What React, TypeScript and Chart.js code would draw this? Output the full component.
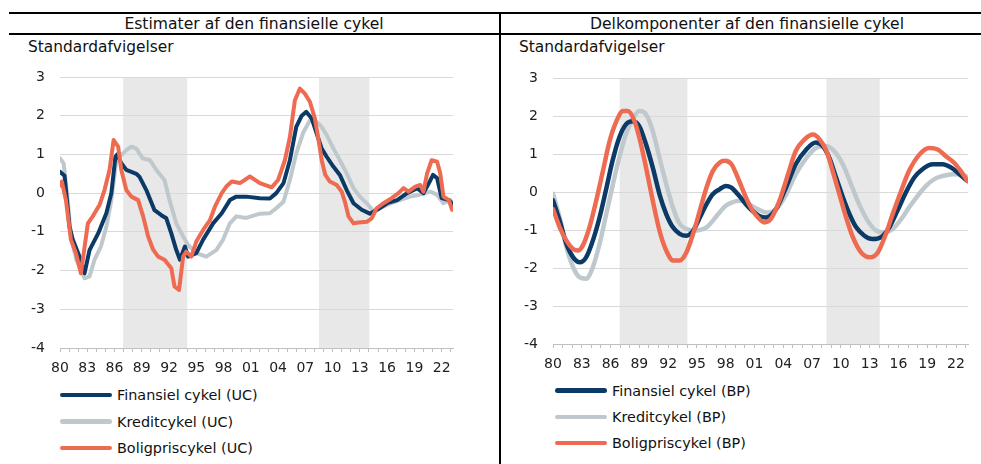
import React, { useEffect, useRef } from 'react';
import Chart from 'chart.js/auto';

type Pt = [number, number];

const FONT = '"DejaVu Sans", Verdana, sans-serif';
const NAVY = '#0b3a66';
const GREY = '#bec8cd';
const RED = '#ee6b52';
const BAND = '#e8e8e8';

// x axis: quarterly data from 1980 to 2023Q1
const X_MIN = 1980;
const X_MAX = 2023.25;
const yearTicks = [
  1980, 1981, 1982, 1983, 1984, 1985, 1986, 1987, 1988, 1989, 1990, 1991, 1992, 1993, 1994,
  1995, 1996, 1997, 1998, 1999, 2000, 2001, 2002, 2003, 2004, 2005, 2006, 2007, 2008, 2009,
  2010, 2011, 2012, 2013, 2014, 2015, 2016, 2017, 2018, 2019, 2020, 2021, 2022, 2023,
];
const labelYears = [1980, 1983, 1986, 1989, 1992, 1995, 1998, 2001, 2004, 2007, 2010, 2013, 2016, 2019, 2022];
const bands: Pt[] = [
  [1986.95, 1994.0],
  [2008.5, 2014.05],
];

// Left panel: Estimater af den finansielle cykel (UC)
const finansielUC: Pt[] = [
  [1980.0, 0.55], [1980.5, 0.45], [1981.05, -0.87], [1981.4, -1.2], [1982.15, -1.64], [1982.7, -2.07],
  [1983.25, -1.47], [1984.2, -1.04], [1985.1, -0.52], [1985.65, 0.0], [1986.1, 0.94], [1986.3, 1.0],
  [1986.75, 0.77], [1987.3, 0.6], [1988.4, 0.5], [1988.75, 0.42], [1989.5, 0.08], [1990.4, -0.44],
  [1991.15, -0.57], [1991.7, -0.65], [1992.25, -1.04], [1992.8, -1.47], [1993.2, -1.72], [1993.75, -1.38],
  [1994.1, -1.64], [1995.0, -1.55], [1995.75, -1.2], [1996.85, -0.78], [1997.8, -0.52], [1998.7, -0.18],
  [1999.4, -0.09], [2000.5, -0.09], [2002.0, -0.13], [2003.1, -0.14], [2003.8, 0.0], [2004.6, 0.26],
  [2005.3, 0.85], [2006.0, 1.71], [2006.6, 2.0], [2007.1, 2.1], [2007.7, 1.93], [2008.25, 1.54],
  [2008.8, 1.15], [2009.35, 0.94], [2010.1, 0.68], [2010.8, 0.47], [2011.55, 0.08], [2012.3, -0.26],
  [2013.2, -0.43], [2014.1, -0.53], [2014.9, -0.43], [2016.0, -0.26], [2017.1, -0.18], [2018.2, 0.0],
  [2019.3, 0.13], [2020.0, 0.0], [2020.6, 0.26], [2021.05, 0.47], [2021.5, 0.39], [2022.0, -0.13],
  [2022.8, -0.18], [2023.25, -0.3],
];
const kreditUC: Pt[] = [
  [1980.0, 0.9], [1980.4, 0.77], [1980.85, -0.18], [1981.2, -1.12], [1981.8, -1.72], [1982.7, -2.2],
  [1983.25, -2.15], [1983.8, -1.72], [1984.5, -1.38], [1985.1, -0.87], [1985.65, -0.18], [1986.2, 0.85],
  [1986.75, 0.98], [1987.3, 1.11], [1987.85, 1.2], [1988.4, 1.15], [1989.1, 0.9], [1989.9, 0.85],
  [1990.6, 0.6], [1991.5, 0.34], [1992.05, -0.18], [1992.8, -0.78], [1993.55, -1.12], [1994.1, -1.34],
  [1995.0, -1.55], [1996.1, -1.64], [1997.2, -1.47], [1997.95, -1.2], [1998.7, -0.78], [1999.4, -0.6],
  [2000.5, -0.64], [2002.0, -0.53], [2003.1, -0.52], [2003.8, -0.39], [2004.6, -0.22], [2005.3, 0.34],
  [2006.0, 1.03], [2006.8, 1.58], [2007.5, 1.88], [2008.25, 1.84], [2008.8, 1.71], [2009.35, 1.5],
  [2010.1, 1.15], [2010.8, 0.85], [2011.55, 0.51], [2012.3, 0.13], [2013.0, -0.09], [2013.75, -0.26],
  [2014.5, -0.47], [2015.2, -0.39], [2016.3, -0.27], [2017.4, -0.18], [2018.5, -0.09], [2019.6, -0.04],
  [2020.75, 0.04], [2021.5, -0.04], [2022.2, -0.26], [2022.95, -0.18], [2023.25, -0.26],
];
const boligUC: Pt[] = [
  [1980.0, 0.2], [1980.2, 0.3], [1980.65, -0.18], [1981.2, -1.2], [1981.75, -1.55], [1982.3, -2.07],
  [1983.07, -0.78], [1983.6, -0.6], [1984.0, -0.44], [1984.35, -0.31], [1984.9, 0.08], [1985.45, 0.6],
  [1985.9, 1.37], [1986.4, 1.2], [1986.75, 0.6], [1987.3, 0.08], [1987.85, -0.09], [1988.6, -0.18],
  [1989.15, -0.6], [1989.7, -1.12], [1990.25, -1.46], [1990.8, -1.64], [1991.5, -1.72], [1992.25, -1.94],
  [1992.6, -2.41], [1993.1, -2.5], [1993.55, -1.64], [1993.9, -1.51], [1994.45, -1.64], [1995.0, -1.25],
  [1995.75, -0.95], [1996.5, -0.7], [1997.05, -0.35], [1997.8, 0.0], [1998.3, 0.17], [1998.9, 0.3],
  [1999.8, 0.26], [2000.9, 0.43], [2002.0, 0.26], [2003.3, 0.15], [2004.0, 0.34], [2004.75, 0.85],
  [2005.3, 1.45], [2005.85, 2.4], [2006.4, 2.7], [2006.95, 2.57], [2007.5, 2.36], [2008.05, 1.93],
  [2008.4, 1.45], [2008.8, 0.85], [2009.2, 0.47], [2009.7, 0.3], [2010.45, 0.21], [2011.0, 0.04],
  [2011.4, -0.26], [2011.75, -0.6], [2012.3, -0.78], [2012.85, -0.76], [2013.75, -0.74], [2014.3, -0.65],
  [2014.85, -0.39], [2015.6, -0.26], [2016.5, -0.13], [2017.25, 0.0], [2017.8, 0.13], [2018.35, 0.04],
  [2019.1, 0.17], [2019.65, 0.21], [2020.0, 0.04], [2020.4, 0.51], [2020.9, 0.85], [2021.5, 0.81],
  [2021.85, 0.51], [2022.2, -0.09], [2022.8, -0.18], [2023.15, -0.43],
];

// Right panel: Delkomponenter af den finansielle cykel (BP)
const finansielBP: Pt[] = [
  [1980.0, -0.22], [1980.7, -0.76], [1981.4, -1.37], [1982.1, -1.72], [1982.8, -1.85], [1983.45, -1.72],
  [1984.15, -1.28], [1984.85, -0.67], [1985.5, 0.03], [1986.2, 0.82], [1986.9, 1.43], [1987.6, 1.78],
  [1988.3, 1.86], [1989.0, 1.73], [1989.7, 1.25], [1990.4, 0.64], [1991.1, -0.06], [1991.8, -0.58],
  [1992.5, -0.93], [1993.2, -1.1], [1993.9, -1.15], [1994.6, -1.02], [1995.3, -0.67], [1996.0, -0.32],
  [1996.65, -0.06], [1997.35, 0.07], [1998.0, 0.16], [1998.55, 0.12], [1999.4, -0.1], [2000.1, -0.32],
  [2000.8, -0.5], [2001.5, -0.63], [2002.2, -0.67], [2003.25, -0.45], [2004.3, 0.13], [2005.3, 0.73],
  [2006.4, 1.12], [2007.4, 1.3], [2008.1, 1.21], [2008.8, 0.9], [2009.5, 0.38], [2010.2, -0.13],
  [2010.9, -0.58], [2011.6, -0.93], [2012.45, -1.15], [2013.3, -1.24], [2014.2, -1.19], [2015.05, -0.93],
  [2015.9, -0.49], [2016.8, 0.0], [2017.65, 0.38], [2018.5, 0.6], [2019.6, 0.73], [2020.6, 0.73],
  [2021.5, 0.64], [2022.35, 0.47], [2023.2, 0.29],
];
const kreditBP: Pt[] = [
  [1980.0, -0.05], [1980.7, -0.67], [1981.4, -1.45], [1982.1, -1.98], [1982.75, -2.24], [1983.45, -2.28],
  [1984.15, -1.98], [1984.85, -1.37], [1985.55, -0.58], [1986.25, 0.21], [1986.9, 0.9], [1987.6, 1.52],
  [1988.3, 1.91], [1989.0, 2.13], [1989.7, 2.04], [1990.4, 1.6], [1991.1, 0.9], [1991.8, 0.21],
  [1992.5, -0.41], [1993.2, -0.84], [1993.9, -0.97], [1994.6, -1.02], [1995.3, -1.0], [1996.0, -0.93],
  [1996.65, -0.76], [1997.35, -0.54], [1998.0, -0.36], [1998.7, -0.27], [1999.4, -0.23], [2000.1, -0.27],
  [2000.8, -0.38], [2001.5, -0.47], [2002.2, -0.54], [2003.25, -0.45], [2004.3, -0.06], [2005.3, 0.47],
  [2006.4, 0.9], [2007.4, 1.16], [2008.45, 1.21], [2009.3, 1.08], [2010.2, 0.73], [2011.05, 0.21],
  [2011.9, -0.32], [2012.8, -0.76], [2013.7, -1.02], [2014.5, -1.06], [2015.4, -0.97], [2016.3, -0.71],
  [2017.1, -0.41], [2018.0, -0.1], [2018.9, 0.17], [2019.75, 0.34], [2020.6, 0.42], [2021.65, 0.47],
  [2022.5, 0.47], [2023.2, 0.39],
];
const boligBP: Pt[] = [
  [1980.0, -0.45], [1980.7, -0.93], [1981.4, -1.28], [1982.1, -1.5], [1982.6, -1.54], [1983.1, -1.41],
  [1983.8, -0.93], [1984.5, -0.23], [1985.2, 0.55], [1985.9, 1.34], [1986.6, 1.86], [1987.3, 2.13],
  [1987.8, 2.13], [1988.5, 1.86], [1989.0, 1.43], [1989.7, 0.64], [1990.4, -0.23], [1991.1, -1.02],
  [1991.8, -1.54], [1992.5, -1.8], [1993.2, -1.8], [1993.9, -1.59], [1994.6, -1.1], [1995.3, -0.49],
  [1996.0, 0.12], [1996.65, 0.55], [1997.35, 0.77], [1997.9, 0.82], [1998.6, 0.73], [1999.4, 0.29],
  [2000.1, -0.14], [2000.8, -0.49], [2001.3, -0.65], [2002.0, -0.8], [2002.7, -0.71], [2003.6, -0.23],
  [2004.5, 0.47], [2005.3, 1.08], [2006.2, 1.38], [2007.1, 1.51], [2007.8, 1.38], [2008.5, 1.08],
  [2009.15, 0.55], [2009.85, -0.06], [2010.55, -0.67], [2011.25, -1.19], [2012.1, -1.59], [2013.0, -1.72],
  [2013.85, -1.59], [2014.7, -1.1], [2015.4, -0.58], [2016.3, 0.04], [2017.1, 0.55], [2018.2, 0.99],
  [2019.2, 1.16], [2020.1, 1.12], [2020.95, 0.94], [2021.8, 0.77], [2022.5, 0.55], [2023.2, 0.29],
];

const leftLegend = ['Finansiel cykel (UC)', 'Kreditcykel (UC)', 'Boligpriscykel (UC)'];
const rightLegend = ['Finansiel cykel (BP)', 'Kreditcykel (BP)', 'Boligpriscykel (BP)'];
const seriesColors = [NAVY, GREY, RED];

const toXY = (a: Pt[]) => a.map(([x, y]) => ({ x, y }));

const bandPlugin = {
  id: 'bands',
  beforeDraw(chart: any) {
    const { ctx, chartArea, scales } = chart;
    ctx.save();
    ctx.fillStyle = BAND;
    for (const [a, b] of bands) {
      const x1 = scales.x.getPixelForValue(a);
      const x2 = scales.x.getPixelForValue(b);
      ctx.fillRect(x1, chartArea.top, x2 - x1, chartArea.bottom - chartArea.top);
    }
    ctx.restore();
  },
};

interface PanelGeom {
  left: number;
  top: number;
  width: number;
  height: number;
  yAxisW: number;
  xAxisH: number;
  padTop: number;
  padRight: number;
  lineWidth: number;
  smooth: boolean;
}

function LineChart({ series, geom }: { series: Pt[][]; geom: PanelGeom }) {
  const ref = useRef<HTMLCanvasElement | null>(null);
  useEffect(() => {
    if (!ref.current) return;
    const orders = [1, 2, 0];
    const chart = new Chart(ref.current, {
      type: 'line',
      data: {
        datasets: series.map((s, i) => ({
          data: toXY(s),
          borderColor: seriesColors[i],
          backgroundColor: seriesColors[i],
          borderWidth: geom.lineWidth,
          pointRadius: 0,
          fill: false,
          tension: geom.smooth ? 0.4 : 0,
          cubicInterpolationMode: geom.smooth ? 'monotone' : 'default',
          borderJoinStyle: 'round',
          borderCapStyle: 'round',
          order: orders[i],
        })),
      },
      options: {
        animation: false,
        responsive: false,
        events: [],
        layout: { padding: { top: geom.padTop, right: geom.padRight, left: 0, bottom: 0 } },
        plugins: { legend: { display: false }, tooltip: { enabled: false }, title: { display: false } },
        scales: {
          x: {
            type: 'linear',
            min: X_MIN,
            max: X_MAX,
            afterBuildTicks: (s: any) => {
              s.ticks = yearTicks.map((v) => ({ value: v }));
            },
            afterFit: (s: any) => {
              s.height = geom.xAxisH;
            },
            grid: { drawOnChartArea: false, drawTicks: true, tickLength: 4, color: '#bfbfbf' },
            border: { display: true, color: '#bfbfbf', width: 1 },
            ticks: {
              autoSkip: false,
              maxRotation: 0,
              minRotation: 0,
              padding: 8,
              color: '#222',
              font: { family: FONT, size: 14 },
              callback: (v: any) => (labelYears.includes(Number(v)) ? String(v).slice(2) : ''),
            },
          },
          y: {
            min: -4,
            max: 3,
            afterFit: (s: any) => {
              s.width = geom.yAxisW;
            },
            grid: { color: '#d9d9d9', drawTicks: false, lineWidth: 1 },
            border: { display: false },
            ticks: { stepSize: 1, padding: 15, color: '#222', font: { family: FONT, size: 14 } },
          },
        },
      } as any,
      plugins: [bandPlugin],
    });
    return () => chart.destroy();
  }, []);
  return (
    <canvas
      ref={ref}
      width={geom.width}
      height={geom.height}
      style={{ position: 'absolute', left: geom.left, top: geom.top, width: geom.width, height: geom.height }}
    />
  );
}

function Legend({ labels, x, y0, step }: { labels: string[]; x: number; y0: number; step: number }) {
  return (
    <>
      {labels.map((t, i) => {
        const cy = y0 + i * step;
        return (
          <React.Fragment key={t}>
            <div
              style={{
                position: 'absolute',
                left: x,
                top: cy - 2.25,
                width: 52,
                height: 4.5,
                borderRadius: 3,
                background: seriesColors[i],
              }}
            />
            <div
              style={{
                position: 'absolute',
                left: x + 57,
                top: cy - 9,
                height: 18,
                lineHeight: '18px',
                fontSize: 14.4,
                color: '#111',
                whiteSpace: 'nowrap',
              }}
            >
              {t}
            </div>
          </React.Fragment>
        );
      })}
    </>
  );
}

const leftGeom: PanelGeom = {
  left: 0, top: 36, width: 499, height: 344, yAxisW: 60, xAxisH: 32, padTop: 41, padRight: 46, lineWidth: 4, smooth: false,
};
const rightGeom: PanelGeom = {
  left: 501, top: 36, width: 480, height: 340, yAxisW: 52, xAxisH: 32, padTop: 42, padRight: 13, lineWidth: 4.5, smooth: true,
};

export default function App() {
  const title: React.CSSProperties = {
    position: 'absolute',
    top: 14.5,
    height: 19,
    lineHeight: '19px',
    fontSize: 15.6,
    color: '#111',
    textAlign: 'center',
    whiteSpace: 'nowrap',
  };
  const unit: React.CSSProperties = {
    position: 'absolute',
    top: 37.5,
    height: 18,
    lineHeight: '18px',
    fontSize: 15.4,
    color: '#111',
    whiteSpace: 'nowrap',
  };
  return (
    <div
      style={{
        position: 'fixed',
        left: 0,
        top: 0,
        width: 981,
        height: 464,
        background: '#fff',
        fontFamily: FONT,
        overflow: 'hidden',
      }}
    >
      <div style={{ position: 'absolute', left: 9, top: 12, width: 972, height: 2, background: '#000' }} />
      <div style={{ position: 'absolute', left: 9, top: 33, width: 972, height: 2, background: '#000' }} />
      <div style={{ position: 'absolute', left: 499, top: 12, width: 2, height: 452, background: '#000' }} />
      <div style={{ ...title, left: 9, width: 490 }}>Estimater af den finansielle cykel</div>
      <div style={{ ...title, left: 513, width: 468 }}>Delkomponenter af den finansielle cykel</div>
      <div style={{ ...unit, left: 28 }}>Standardafvigelser</div>
      <div style={{ ...unit, left: 519 }}>Standardafvigelser</div>
      <LineChart series={[finansielUC, kreditUC, boligUC]} geom={leftGeom} />
      <LineChart series={[finansielBP, kreditBP, boligBP]} geom={rightGeom} />
      <Legend labels={leftLegend} x={60} y0={395} step={26.5} />
      <Legend labels={rightLegend} x={555} y0={390.5} step={26.3} />
    </div>
  );
}
